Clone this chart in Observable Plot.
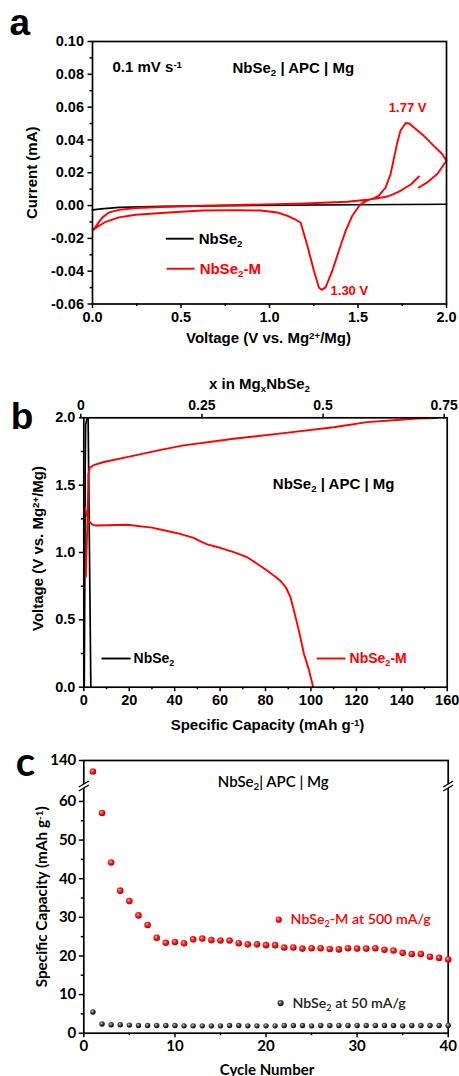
<!DOCTYPE html>
<html><head><meta charset="utf-8">
<script src="https://cdn.jsdelivr.net/npm/d3@7"></script>
<script src="https://cdn.jsdelivr.net/npm/@observablehq/plot@0.6"></script>
<style>
body{margin:0;background:#fff;}
#wrap{position:relative;width:459px;height:1076px;overflow:hidden;background:#fff;}
#wrap svg{position:absolute;left:0;}
</style></head><body><div id="wrap"></div>
<script>
// ---------- Panel a : cyclic voltammetry ----------
const cvRedV = [1.844,1.80,1.74,1.70,1.665,1.60,1.55,1.44,1.2,0.875,0.62,0.43,0.244,0.15,0.094,0.056,0.028,0.003,
  0.037,0.075,0.15,0.244,0.432,0.62,0.80,0.95,1.044,1.10,1.14,1.176,1.214,1.251,1.279,1.294,1.317,1.355,1.392,1.430,1.468,1.511,1.55,1.59,1.618,1.656,1.684,1.702,1.722,1.74,1.769,1.79,1.816,1.872,1.928,1.976,2.0,1.948,1.891,1.844];
const cvRedI = [0.0177,0.0130,0.0090,0.0070,0.0055,0.0042,0.0035,0.0023,0.0013,0.0005,-0.0001,-0.0007,-0.0015,-0.0026,-0.0042,-0.0072,-0.0113,-0.0149,
  -0.0123,-0.0099,-0.0072,-0.0056,-0.0042,-0.0030,-0.0028,-0.0030,-0.0042,-0.0062,-0.0082,-0.0103,-0.0245,-0.0397,-0.0499,-0.0514,-0.0499,-0.0397,-0.0275,-0.0154,-0.0062,0.0005,0.0030,0.0046,0.0060,0.0110,0.0192,0.0283,0.0385,0.0456,0.0503,0.0500,0.0476,0.0425,0.0364,0.0314,0.0273,0.0192,0.0141,0.0110];
const cvBlackV = [0,0.05,0.15,0.4,0.8,1.5,2.0];
const cvBlackI = [-0.0026,-0.0020,-0.0011,-0.0005,0.0,0.0005,0.0008];
const aXTicks = [0,0.5,1.0,1.5,2.0];
const aXMinor = [0.25,0.75,1.25,1.75];
const aYTicks = [-0.06,-0.04,-0.02,0,0.02,0.04,0.06,0.08,0.10];
const aYMinor = [-0.05,-0.03,-0.01,0.01,0.03,0.05,0.07,0.09];
const aPeaks = [{v:1.769,i:0.0503,label:"1.77 V"}];
const aValleys = [{v:1.294,i:-0.0514,label:"1.30 V"}];
const aLegend = [{v1:0.414,v2:0.572,i:-0.0202,label:"NbSe_{2}",color:"black"},{v1:0.419,v2:0.577,i:-0.0385,label:"NbSe_{2}-M",color:"#ff0000"}];

// ---------- Panel b : charge / discharge ----------
const bRedDisCap = [0.4,1.5,2.6,4,5.6,19,30,36.7,42,48,54.3,60,66,71.9,76,80.7,86.6,89,91,92.5,94.7,96.9,99,101];
const bRedDisV   = [1.336,1.27,1.225,1.205,1.2,1.206,1.185,1.16,1.14,1.11,1.06,1.035,1.0025,0.965,0.92,0.866,0.79,0.74,0.668,0.569,0.42,0.248,0.136,0];
const bRedChCap = [0.9,1.3,1.7,1.9,2.0,2.6,4.4,8.8,19,33.8,44,66,88,110,124.7,139.4,146.8,155.6];
const bRedChV   = [0.82,1.05,1.28,1.45,1.58,1.63,1.648,1.672,1.708,1.762,1.795,1.844,1.886,1.93,1.968,1.985,1.995,1.998];
const bBlkDisCap = [1.9,2.2,2.5,2.8,3.1];
const bBlkDisV   = [2.0,1.5,1.0,0.5,0];
const bBlkChCap = [0.2,0.5,0.6,0.8,1.5];
const bBlkChV   = [0,1.0,1.6,1.95,2.0];
const bXTicks = [0,20,40,60,80,100,120,140,160];
const bXMinor = [10,30,50,70,90,110,130,150];
const bYTicks = [0,0.5,1.0,1.5,2.0];
const bYMinor = [0.25,0.75,1.25,1.75];
const bTopX = [0,0.25,0.5,0.75];
const bTopLabels = ["0","0.25","0.5","0.75"];
const bLegend = [{c1:7.8,c2:20.6,ct:21.9,v:0.213,label:"NbSe_{2}",color:"black"},{c1:102.5,c2:115.2,ct:117,v:0.213,label:"NbSe_{2}-M",color:"#ff0000"}];

// ---------- Panel c : cycling ----------
const cycles = [1,2,3,4,5,6,7,8,9,10,11,12,13,14,15,16,17,18,19,20,21,22,23,24,25,26,27,28,29,30,31,32,33,34,35,36,37,38,39,40];
const redCap = [125,57.0,44.2,36.9,34.2,30.5,28.0,24.7,23.4,23.6,23.3,24.3,24.5,24.1,24.0,24.0,23.3,23.0,23.0,22.8,22.8,22.2,22.2,21.9,22.0,22.0,21.8,21.7,22.0,21.9,21.9,22.0,21.6,21.4,20.8,20.5,20.5,19.8,19.5,19.1];
const blackCap = [5.5,2.4,2.2,2.2,2.1,2.0,2.0,2.0,2.0,2.0,1.9,1.9,1.9,1.9,1.9,2.0,2.0,1.9,1.9,1.9,1.9,2.0,2.0,2.0,1.9,2.0,2.0,2.0,2.0,2.0,2.0,2.0,2.0,2.0,1.9,2.0,2.0,2.0,2.0,2.0];
const cXTicks = [0,10,20,30,40];
const cXMinor = [5,15,25,35];
const cYTicks = [0,10,20,30,40,50,60,140];
const cYMinor = [5,15,25,35,45,55];
const cBreakLow = 64, cBreakHigh = 105, cBreakMark = 80;
const cLegend = [{x:21.4,xt:22.7,y:29.4,label:"NbSe_{2}-M at 500 mA/g",fill:"url(#gRed)",color:"#ff0000"},
                 {x:21.6,xt:22.9,y:7.8,label:"NbSe_{2} at 50 mA/g",fill:"url(#gBlk)",color:"#222"}];

// ---------- helpers ----------
const RED = "#ff0000";
const arial = "'Liberation Sans', Arial, sans-serif";
const lato = "Lato, 'Open Sans', sans-serif";
const zip = (xs, ys) => xs.map((x, k) => ({x, y: ys[k]}));
const mid = {textAnchor: "middle", lineAnchor: "middle"};

function richText(svg) {
  svg.querySelectorAll("text").forEach(t => {
    const s = t.textContent;
    if (!/[_^]\{/.test(s)) return;
    while (t.firstChild) t.removeChild(t.firstChild);
    const re = /([_^])\{([^}]*)\}/g;
    let last = 0, m;
    const add = (str, kind) => {
      const ts = document.createElementNS("http://www.w3.org/2000/svg", "tspan");
      ts.textContent = str;
      if (kind) {
        ts.setAttribute("font-size", "65%");
        ts.setAttribute("baseline-shift", kind === "_" ? "-30%" : "45%");
        ts.style.baselineShift = kind === "_" ? "-30%" : "45%";
      }
      t.appendChild(ts);
    };
    while ((m = re.exec(s))) {
      if (m.index > last) add(s.slice(last, m.index));
      add(m[2], m[1]);
      last = re.lastIndex;
    }
    if (last < s.length) add(s.slice(last));
  });
}

const breakFill = {draw(ctx) { ctx.moveTo(-5, 1); ctx.lineTo(5, -5); ctx.lineTo(5, -1); ctx.lineTo(-5, 5); ctx.closePath(); }};
const breakLines = {draw(ctx) { ctx.moveTo(-5, 1); ctx.lineTo(5, -5); ctx.moveTo(-5, 5); ctx.lineTo(5, -1); }};

const wrap = document.getElementById("wrap");
function place(svg, top) { svg.style.top = top + "px"; wrap.appendChild(svg); richText(svg); }

// ---------- Plot a ----------
const pa = Plot.plot({
  width: 459, height: 350,
  marginLeft: 92, marginRight: 13, marginTop: 41, marginBottom: 46.5,
  x: {domain: [0, 2]},
  y: {domain: [-0.06, 0.10]},
  style: {fontFamily: arial, fontWeight: "bold", fontSize: "14.5px", color: "black", background: "white", overflow: "visible"},
  marks: [
    Plot.axisX({ticks: aXTicks, tickSize: 4.5, tickPadding: 3, strokeWidth: 1.5, tickFormat: d => d.toFixed(1), label: null}),
    Plot.axisX({ticks: aXMinor, tickSize: 2.5, strokeWidth: 1.5, tickFormat: () => "", label: null}),
    Plot.axisY({ticks: aYTicks, tickSize: 4.5, tickPadding: 4, strokeWidth: 1.5, tickFormat: d => d.toFixed(2), label: null}),
    Plot.axisY({ticks: aYMinor, tickSize: 2.5, strokeWidth: 1.5, tickFormat: () => "", label: null}),
    Plot.line(zip(cvBlackV, cvBlackI), {x: "x", y: "y", stroke: "black", strokeWidth: 1.7}),
    Plot.line(zip(cvRedV, cvRedI), {x: "x", y: "y", stroke: RED, strokeWidth: 1.9}),
    Plot.frame({stroke: "black", strokeWidth: 1.7}),
    Plot.text(aPeaks, {x: "v", y: "i", text: "label", dx: 2, dy: -15, fill: RED, fontSize: 13}),
    Plot.text(aValleys, {x: "v", y: "i", text: "label", dx: 9, dy: 1, textAnchor: "start", fill: RED, fontSize: 13}),
    Plot.link(aLegend, {x1: "v1", x2: "v2", y1: "i", y2: "i", stroke: "color", strokeWidth: 1.9}),
    Plot.text(aLegend, {x: "v2", y: "i", text: "label", dx: 5, textAnchor: "start", fill: "color", fontSize: 15}),
    Plot.text(["0.1 mV s^{-1}"], {frameAnchor: "top-left", dx: 20, dy: 26, textAnchor: "start", lineAnchor: "middle", fontSize: 15}),
    Plot.text(["NbSe_{2} | APC | Mg"], {frameAnchor: "top-left", dx: 140, dy: 27, textAnchor: "start", lineAnchor: "middle", fontSize: 15}),
    Plot.text(["Voltage (V vs. Mg^{2+}/Mg)"], {frameAnchor: "bottom", dy: 34, dx: -1, fontSize: 15, ...mid}),
    Plot.text(["Current (mA)"], {frameAnchor: "left", dx: -60, rotate: -90, fontSize: 15, ...mid}),
    Plot.text(["a"], {frameAnchor: "top-left", dx: -83, dy: -7, lineAnchor: "bottom", textAnchor: "start", fontSize: 37})
  ]
});
place(pa, 0);

// ---------- Plot b ----------
const capPerX = 160 / 0.75;
const pb = Plot.plot({
  width: 459, height: 390,
  marginLeft: 83.3, marginRight: 12.3, marginTop: 67.3, marginBottom: 53.3,
  x: {domain: [0, 160]},
  y: {domain: [0, 2.0]},
  style: {fontFamily: arial, fontWeight: "bold", fontSize: "14.5px", color: "black", background: "white", overflow: "visible"},
  marks: [
    Plot.axisX({ticks: bXTicks, tickSize: 4.5, tickPadding: 3, strokeWidth: 1.5, label: null}),
    Plot.axisX({ticks: bXMinor, tickSize: 2.5, strokeWidth: 1.5, tickFormat: () => "", label: null}),
    Plot.axisX({anchor: "top", ticks: bTopX.map(v => v * capPerX), tickSize: 4.5, tickPadding: 3, strokeWidth: 1.5, dx: -3, fontSize: 14, tickFormat: (d, k) => bTopLabels[k], label: null}),
    Plot.axisY({ticks: bYTicks, tickSize: 4.5, tickPadding: 4, strokeWidth: 1.5, tickFormat: d => d.toFixed(1), label: null}),
    Plot.axisY({ticks: bYMinor, tickSize: 2.5, strokeWidth: 1.5, tickFormat: () => "", label: null}),
    Plot.line(zip(bBlkDisCap, bBlkDisV), {x: "x", y: "y", stroke: "black", strokeWidth: 1.7}),
    Plot.line(zip(bBlkChCap, bBlkChV), {x: "x", y: "y", stroke: "black", strokeWidth: 1.7}),
    Plot.line(zip(bRedDisCap, bRedDisV), {x: "x", y: "y", stroke: RED, strokeWidth: 1.9}),
    Plot.line(zip(bRedChCap, bRedChV), {x: "x", y: "y", stroke: RED, strokeWidth: 1.9}),
    Plot.frame({stroke: "black", strokeWidth: 1.7}),
    Plot.link(bLegend, {x1: "c1", x2: "c2", y1: "v", y2: "v", stroke: "color", strokeWidth: 1.9}),
    Plot.text(bLegend, {x: "ct", y: "v", text: "label", textAnchor: "start", fill: "color", fontSize: 14}),
    Plot.text(["NbSe_{2} | APC | Mg"], {frameAnchor: "top-left", dx: 189, dy: 66, textAnchor: "start", lineAnchor: "middle", fontSize: 15}),
    Plot.text(["x in Mg_{x}NbSe_{2}"], {frameAnchor: "top", dx: -6, dy: -34, fontSize: 15, ...mid}),
    Plot.text(["Specific Capacity (mAh g^{-1})"], {frameAnchor: "bottom", dy: 38, dx: 2, fontSize: 15, ...mid}),
    Plot.text(["Voltage (V vs. Mg^{2+}/Mg)"], {frameAnchor: "left", dx: -46, dy: -4, rotate: -90, fontSize: 15, ...mid}),
    Plot.text(["b"], {frameAnchor: "top-left", dx: -73, dy: 10.7, lineAnchor: "bottom", textAnchor: "start", fontSize: 37})
  ]
});
place(pb, 350);

// ---------- Plot c ----------
const cTop = 740, cH = 336, cMT = 20, cMB = 43.3;
const yBottom = 1032.7 - cTop, yBreak = 785.5 - cTop, yTopPx = cMT;
const pc = Plot.plot({
  width: 459, height: cH,
  marginLeft: 83.3, marginRight: 11.3, marginTop: cMT, marginBottom: cMB,
  x: {domain: [0, 40]},
  y: {type: "linear", domain: [0, cBreakLow, cBreakHigh, 140], range: [yBottom, yBreak, yBreak, yTopPx]},
  style: {fontFamily: lato, fontWeight: "bold", fontSize: "15px", color: "black", background: "white", overflow: "visible"},
  marks: [
    Plot.axisX({ticks: cXTicks, tickSize: 4.5, tickPadding: 3, strokeWidth: 1.5, label: null}),
    Plot.axisX({ticks: cXMinor, tickSize: 2.5, strokeWidth: 1.5, tickFormat: () => "", label: null}),
    Plot.axisY({ticks: cYTicks, tickSize: 4.5, tickPadding: 3, strokeWidth: 1.5, label: null}),
    Plot.axisY({ticks: cYMinor, tickSize: 2.5, strokeWidth: 1.5, tickFormat: () => "", label: null}),
    Plot.frame({stroke: "black", strokeWidth: 1.7}),
    Plot.dot([{x: 0, y: cBreakMark}, {x: 40, y: cBreakMark}], {x: "x", y: "y", symbol: breakFill, r: 5, fill: "white", stroke: "none"}),
    Plot.dot([{x: 0, y: cBreakMark}, {x: 40, y: cBreakMark}], {x: "x", y: "y", symbol: breakLines, r: 5, fill: "none", stroke: "black", strokeWidth: 1.4}),
    Plot.dot(zip(cycles, blackCap), {x: "x", y: "y", r: 2.7, fill: "url(#gBlk)", stroke: "none"}),
    Plot.dot(zip(cycles, redCap), {x: "x", y: "y", r: 3.3, fill: "url(#gRed)", stroke: "none"}),
    Plot.dot(cLegend, {x: "x", y: "y", r: 3.1, fill: "fill", stroke: "none"}),
    Plot.text(cLegend, {x: "xt", y: "y", text: "label", textAnchor: "start", fill: "color", fontSize: 14.2, fontWeight: "600"}),
    Plot.text(["NbSe_{2}| APC | Mg"], {frameAnchor: "top-left", dx: 134, dy: 22, textAnchor: "start", lineAnchor: "middle", fontSize: 15, fontWeight: "600"}),
    Plot.text(["Cycle Number"], {frameAnchor: "bottom", dy: 36.5, dx: 1, fontSize: 15, ...mid}),
    Plot.text(["Specific Capacity (mAh g^{-1})"], {frameAnchor: "left", dx: -41.5, rotate: -90, fontSize: 15.3, ...mid}),
    Plot.text(["c"], {frameAnchor: "top-left", dx: -68, dy: 15, lineAnchor: "bottom", textAnchor: "start", fontSize: 40})
  ]
});
const defs = document.createElementNS("http://www.w3.org/2000/svg", "defs");
defs.innerHTML = `
<radialGradient id="gRed" cx="40%" cy="38%" r="62%">
  <stop offset="0%" stop-color="#ffe0e0"/><stop offset="35%" stop-color="#ff3030"/>
  <stop offset="75%" stop-color="#f00000"/><stop offset="100%" stop-color="#a00000"/>
</radialGradient>
<radialGradient id="gBlk" cx="40%" cy="38%" r="62%">
  <stop offset="0%" stop-color="#d8d8d8"/><stop offset="40%" stop-color="#555"/>
  <stop offset="100%" stop-color="#000"/>
</radialGradient>`;
pc.insertBefore(defs, pc.firstChild);
place(pc, cTop);
</script></body></html>
